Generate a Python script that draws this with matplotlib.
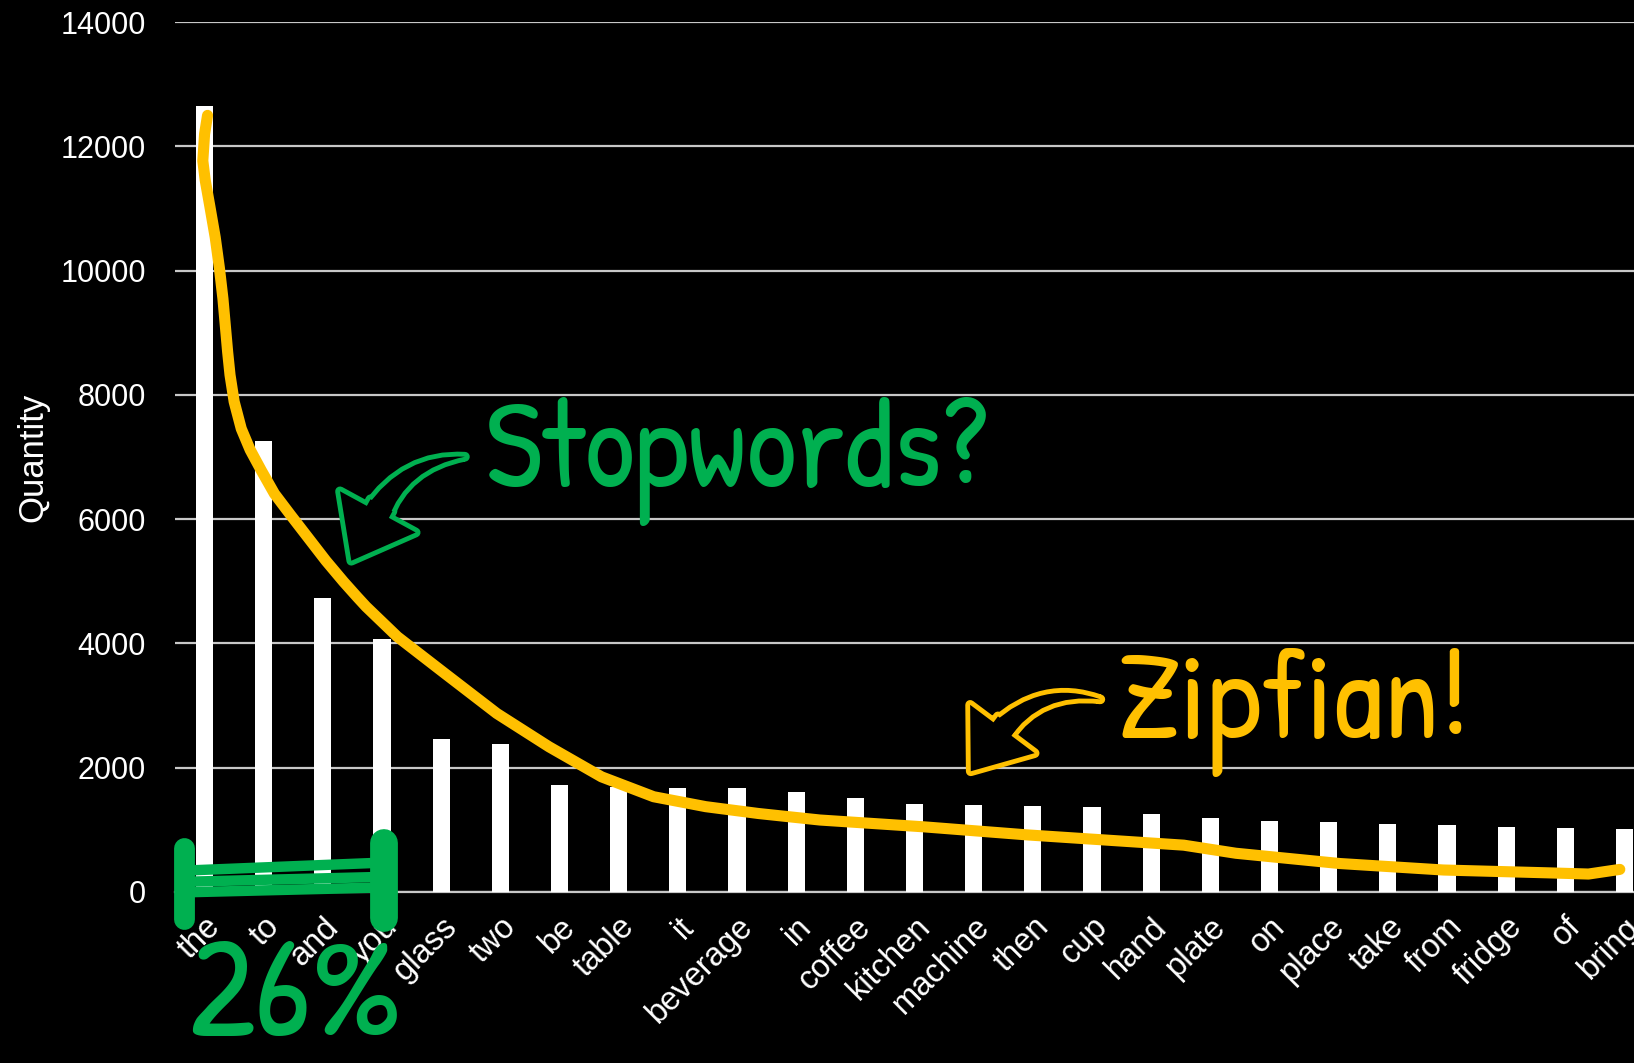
import matplotlib

matplotlib.use("Agg")
import matplotlib.font_manager as fm
import matplotlib.pyplot as plt
from matplotlib.patches import FancyArrowPatch

# --- data ---
words = [
    "the", "to", "and", "you", "glass", "two", "be", "table", "it", "beverage",
    "in", "coffee", "kitchen", "machine", "then", "cup", "hand", "plate", "on",
    "place", "take", "from", "fridge", "of", "bring",
]
counts = [
    12650, 7250, 4730, 4070, 2455, 2380, 1715, 1690, 1677, 1670,
    1608, 1515, 1420, 1403, 1382, 1370, 1247, 1183, 1140,
    1118, 1086, 1081, 1038, 1022, 1016,
]

# hand-drawn trend line (word index, quantity)
curve_x = [0.05, 0.00, -0.03, 0.01, 0.09, 0.18, 0.25, 0.31, 0.35, 0.39, 0.43,
           0.50, 0.62, 0.77, 0.96, 1.18, 1.45, 1.75, 2.05, 2.35, 2.58, 2.73,
           3.26, 4.06, 4.94, 5.82, 6.71, 7.59, 8.47, 9.36, 10.40, 12.16, 13.91,
           15.67, 16.55, 17.43, 19.18, 20.94, 22.69, 23.39, 23.92]
curve_y = [12500, 12200, 11770, 11460, 11030, 10535, 10045, 9550, 9120, 8690,
           8320, 7890, 7455, 7115, 6780, 6410, 6070, 5700, 5330, 4990, 4745,
           4590, 4105, 3515, 2870, 2335, 1850, 1530, 1370, 1260, 1155, 1045,
           915, 805, 750, 620, 455, 350, 305, 285, 360]

# green bracket under the first four words
bracket_x = [-0.35, 3.03]
bracket_rows = [[340, 470], [160, 240], [-10, 70]]
bracket_ends_y = [[700, -440], [780, -420]]

GREEN = "#00B050"
YELLOW = "#FFC000"
GRID = "#C8C8C8"

installed = {f.name for f in fm.fontManager.ttflist}
hand_font = "DejaVu Sans"
for name in ["Patrick Hand", "Gochi Hand", "Caveat", "Indie Flower", "Kalam"]:
    if name in installed:
        hand_font = name
        break

plt.rcParams.update(
    {
        "figure.facecolor": "black",
        "axes.facecolor": "black",
        "savefig.facecolor": "black",
        "text.color": "white",
        "axes.labelcolor": "white",
        "xtick.color": "white",
        "ytick.color": "white",
        "font.family": ["Liberation Sans", "DejaVu Sans"],
    }
)


def outlined_arrow(ax, tail, base, base2, tip, rad, color, hl, hw, tw):
    """Hollow curved arrow: tapered wedge shaft + simple head, outlined as one shape."""
    shapes = [
        dict(posA=base, posB=tail,
             arrowstyle=f"wedge,tail_width={tw},shrink_factor=0.5",
             connectionstyle=f"arc3,rad={rad}"),
        dict(posA=base2, posB=tip,
             arrowstyle=f"simple,head_length={hl},head_width={hw},tail_width={tw}"),
    ]
    for kw in shapes:
        ax.add_patch(FancyArrowPatch(**kw, mutation_scale=100, shrinkA=0, shrinkB=0,
                                     facecolor=color, edgecolor=color, linewidth=7,
                                     joinstyle="round", zorder=7))
    for kw in shapes:
        ax.add_patch(FancyArrowPatch(**kw, mutation_scale=100, shrinkA=0, shrinkB=0,
                                     facecolor="black", edgecolor="none", zorder=8))


fig = plt.figure(figsize=(16.34, 10.63), dpi=100)
ax = fig.add_axes([0.1071, 0.1611, 0.8929, 0.818])

x = list(range(len(words)))
ax.bar(x, counts, width=0.29, color="white", zorder=3)

ax.set_xlim(-0.5, 24.16)
ax.set_ylim(0, 14000)
ax.set_yticks(range(0, 14001, 2000))
ax.set_xticks(x)
ax.set_xticklabels(words, rotation=45, ha="right", rotation_mode="anchor")
ax.tick_params(axis="y", length=0, labelsize=22, pad=21)
ax.tick_params(axis="x", length=0, labelsize=23.5, pad=14)

ax.grid(True, axis="y", color=GRID, linewidth=1.6, zorder=0)
ax.set_axisbelow(True)
for side in ["top", "right", "left"]:
    ax.spines[side].set_visible(False)
ax.spines["bottom"].set_color(GRID)
ax.spines["bottom"].set_linewidth(1.6)

ax.set_ylabel("Quantity", fontsize=25)
ax.yaxis.set_label_coords(-0.086, 0.5)

# yellow zipf curve
ax.plot(curve_x, curve_y, color=YELLOW, linewidth=8, solid_capstyle="round",
        solid_joinstyle="round", zorder=5, clip_on=False)

# green bracket
for row in bracket_rows:
    ax.plot(bracket_x, row, color=GREEN, linewidth=7.5, solid_capstyle="round",
            zorder=6, clip_on=False)
for bx, ends, lw in zip(bracket_x, bracket_ends_y, [15, 20]):
    ax.plot([bx, bx], ends, color=GREEN, linewidth=lw, solid_capstyle="round",
            zorder=6, clip_on=False)

# annotations
ax.text(4.74, 6516, "Stopwords?", color=GREEN, fontsize=90, family=hand_font,
        va="baseline", ha="left", zorder=9)
ax.text(15.41, 2470, "Zipfian!", color=YELLOW, fontsize=90, family=hand_font,
        va="baseline", ha="left", zorder=9)
ax.text(-0.28, -2330, "26%", color=GREEN, fontsize=102, family=hand_font,
        va="baseline", ha="left", zorder=9, clip_on=False)

outlined_arrow(ax, tail=(4.40, 7004), base=(2.91, 6081), base2=(2.99, 6223),
               tip=(2.48, 5330), rad=-0.28, color=GREEN,
               hl=0.40, hw=0.62, tw=0.18)
outlined_arrow(ax, tail=(15.14, 3098), base=(13.46, 2587), base2=(13.56, 2716),
               tip=(12.95, 1940), rad=-0.3, color=YELLOW,
               hl=0.38, hw=0.58, tw=0.16)

fig.savefig("out.png", dpi=100, facecolor="black")
plt.close(fig)
